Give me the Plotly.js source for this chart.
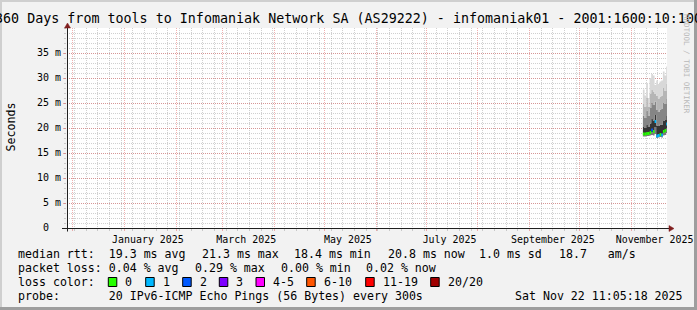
<!DOCTYPE html>
<html><head><meta charset="utf-8">
<script src="https://cdn.plot.ly/plotly-3.0.1.min.js"></script>
<style>html,body{margin:0;padding:0;background:#f2f2f2;overflow:hidden}#chart{width:697px;height:310px}</style>
</head><body><div id="chart"></div>
<script>
// ---------------- data ----------------
const titleText = '360 Days from tools to Infomaniak Network SA (AS29222) - infomaniak01 - 2001:1600:10:100';
const rangeStart = '2024-11-27 11:05:18';
const rangeEnd = '2025-11-22 11:05:18';

const days = ['2025-11-08','2025-11-09','2025-11-10','2025-11-11','2025-11-12','2025-11-13','2025-11-14',
              '2025-11-15','2025-11-16','2025-11-17','2025-11-18','2025-11-19','2025-11-20','2025-11-21','2025-11-22'];
// median RTT in ms and loss class index per day
const medianRtt = [18.8, 18.8, 18.9, 18.9, 19.1, 19.6, 19.3, 21.3, 18.4, 18.5, 18.7, 18.6, 19.3, 19.5, 20.8];
const lossClass = [0, 0, 0, 0, 0, 2, 0, 1, 1, 1, 0, 1, 0, 0, 1];
// smoke: sorted ping percentiles in ms
const pingMin = [18.3, 18.3, 18.4, 18.4, 18.5, 18.6, 18.5, 18.8, 18.0, 18.1, 18.2, 18.1, 18.5, 18.6, 19.0];
const ping25  = [18.6, 18.6, 18.7, 18.7, 18.8, 19.2, 19.0, 20.2, 18.2, 18.3, 18.5, 18.4, 19.0, 19.2, 19.9];
const ping75  = [20.2, 20.0, 20.6, 20.2, 20.9, 21.8, 21.5, 22.6, 20.5, 20.4, 20.7, 20.6, 21.4, 21.6, 22.4];
const ping90  = [22.5, 22.0, 23.5, 22.4, 24.0, 25.0, 24.6, 25.3, 23.6, 23.2, 23.7, 23.8, 25.0, 24.8, 25.8];
const ping95  = [24.8, 24.2, 26.0, 24.2, 26.8, 27.6, 27.3, 26.8, 26.4, 25.8, 26.3, 26.5, 28.0, 27.4, 28.9];
const pingMax = [27.7, 26.5, 29.0, 26.0, 30.0, 30.8, 30.5, 28.6, 29.5, 28.8, 29.3, 29.5, 31.3, 30.5, 32.3];

const yTickVals = [0, 5, 10, 15, 20, 25, 30, 35];
const yTickText = ['0\u00a0\u00a0', '5 m', '10 m', '15 m', '20 m', '25 m', '30 m', '35 m'];
const monthLabelDates = ['2025-01-15','2025-03-15','2025-05-15','2025-07-15','2025-09-15','2025-11-15'];
const monthLabels = ['January 2025','March 2025','May 2025','July 2025','September 2025','November 2025'];

const lossColors = ['#26ff00','#00b8ff','#0059ff','#7e00ff','#ff00ff','#ff5500','#ff0000','#a00000'];
const lossLabels = ['0','1','2','3','4-5','6-10','11-19','20/20'];

const rttStats = ['median rtt:  19.3 ms avg', '21.3 ms max', '18.4 ms min', '20.8 ms now', '1.0 ms sd', '18.7   am/s'];
const lossStats = ['packet loss: 0.04 % avg', '0.29 % max', '0.00 % min', '0.02 % now'];
const probeText = 'probe:       20 IPv6-ICMP Echo Pings (56 Bytes) every 300s';
const dateText = 'Sat Nov 22 11:05:18 2025';

// ---------------- layout geometry ----------------
const L = 67, T = 28, W = 600, H = 200, FW = 697, FH = 310;
const px = p => (p - L) / W;
const py = p => (T + H - p) / H;
const pre = s => s.replace(/ /g, '\u00a0');
const MONO = 'DejaVu Sans Mono, monospace';

// ---------------- traces ----------------
const stepX = days.concat([rangeEnd]);
const stepY = a => a.concat([a[a.length - 1]]);
const bands = [
  [pingMin, null],
  [ping25, '#7a7a7a'],
  [ping75, '#353535'],
  [ping90, '#858585'],
  [ping95, '#b5b5b5'],
  [pingMax, '#d8d8d8']
];
const traces = bands.map(([arr, col], i) => ({
  type: 'scatter', mode: 'lines', x: stepX, y: stepY(arr),
  line: {shape: 'hv', width: 0, color: col || 'rgba(0,0,0,0)'},
  fill: i === 0 ? 'none' : 'tonexty', fillcolor: col || undefined,
  hoverinfo: 'skip'
}));

// median segments coloured by loss class
lossColors.forEach((c, cls) => {
  const xs = [], ys = [];
  medianRtt.forEach((m, i) => {
    if (lossClass[i] !== cls) return;
    xs.push(days[i], i + 1 < days.length ? days[i + 1] : rangeEnd, null);
    ys.push(m, m, null);
  });
  if (xs.length) traces.push({type: 'scatter', mode: 'lines', x: xs, y: ys,
    line: {color: c, width: 3}, connectgaps: false, hoverinfo: 'skip'});
});

// dummy on label axis
traces.push({type: 'scatter', mode: 'markers', x: [monthLabelDates[0]], y: [0], xaxis: 'x2',
  marker: {opacity: 0}, hoverinfo: 'skip'});

// ---------------- annotations ----------------
const ann = [];
const txt = (s, x, y, extra) => ann.push(Object.assign({text: pre(s), xref: 'paper', yref: 'paper',
  x: px(x), y: py(y), xanchor: 'left', yanchor: 'middle', showarrow: false,
  font: {family: MONO, size: 11.6, color: '#000'}}, extra || {}));

const rttX = [15.5, 200, 292, 386, 477, 557];
rttStats.forEach((s, i) => txt(s, rttX[i], 254.3));
const lossX = [15.5, 193.4, 278.7, 364.4];
lossStats.forEach((s, i) => txt(s, lossX[i], 268.3));
txt('loss color:', 15.5, 282.3);
const boxX = [108.3, 145.7, 182.7, 219.3, 256, 306.7, 365.7, 430.7];
lossLabels.forEach((s, i) => txt(s, boxX[i] + 14.8, 282.3));
txt(probeText, 15.5, 296);
txt(dateText, 512.8, 296);

ann.push({text: 'Seconds', xref: 'paper', yref: 'paper', x: px(10), y: py(127.5), textangle: -90,
  xanchor: 'center', yanchor: 'middle', showarrow: false, font: {family: MONO, size: 11.6, color: '#000'}});
ann.push({text: pre('RRDTOOL / TOBI OETIKER'), xref: 'paper', yref: 'paper', x: px(686.5), y: py(63.5), textangle: 90,
  xanchor: 'center', yanchor: 'middle', showarrow: false, font: {family: MONO, size: 7.5, color: '#b9b9b9'}});

// ---------------- shapes ----------------
const shapes = [];
const rect = (x0, y0, x1, y1, c) => shapes.push({type: 'rect', xref: 'paper', yref: 'paper',
  x0: px(x0), x1: px(x1), y0: py(y0), y1: py(y1), fillcolor: c, line: {width: 0}, layer: 'above'});
rect(0, 0, FW, 2, '#cfcfcf');
rect(0, 0, 2, FH, '#cfcfcf');
rect(0, FH - 3, FW, FH, '#9e9e9e');
rect(FW - 3, 0, FW, FH, '#9e9e9e');
lossColors.forEach((c, i) => shapes.push({type: 'rect', xref: 'paper', yref: 'paper',
  x0: px(boxX[i]), x1: px(boxX[i] + 8.5), y0: py(277.5), y1: py(286.5), fillcolor: c,
  line: {color: '#000', width: 1}, layer: 'above'}));
const seg = (x0, y0, x1, y1) => shapes.push({type: 'line', xref: 'paper', yref: 'paper',
  x0: px(x0), x1: px(x1), y0: py(y0), y1: py(y1), line: {color: '#1f1f1f', width: 1}, layer: 'above'});
seg(62, 228.5, 669, 228.5);
seg(67.5, 231.5, 67.5, 27);
const path = (pts, c) => shapes.push({type: 'path', xref: 'paper', yref: 'paper',
  path: 'M' + pts.map(p => px(p[0]) + ',' + py(p[1])).join(' L') + ' Z',
  fillcolor: c, line: {color: c, width: 0.5}, layer: 'above'});
path([[669, 225.5], [674, 228.5], [669, 231.5]], '#801f1f');
path([[64.5, 28], [67.5, 23], [70.5, 28]], '#801f1f');

// ---------------- layout ----------------
const MAJ = 'rgba(222,79,79,0.45)', MIN = 'rgba(143,143,143,0.42)';
const layout = {
  width: FW, height: FH, margin: {l: L, r: FW - L - W, t: T, b: FH - T - H},
  paper_bgcolor: '#f2f2f2', plot_bgcolor: '#ffffff', showlegend: false,
  title: {text: titleText, x: 0.5, xref: 'container', xanchor: 'center',
    y: 1 - 18.5 / FH, yref: 'container', yanchor: 'middle',
    font: {family: MONO, size: 13.35, color: '#000'}},
  xaxis: {type: 'date', range: [rangeStart, rangeEnd], fixedrange: true,
    tickmode: 'linear', tick0: '2024-12-01', dtick: 'M1', showticklabels: false,
    showgrid: true, gridcolor: MAJ, griddash: '1px,1px', gridwidth: 1,
    ticks: 'outside', ticklen: 2, tickcolor: MAJ, zeroline: false, showline: false,
    minor: {tick0: '2024-12-02', dtick: 7 * 86400000, showgrid: true, gridcolor: MIN,
      griddash: '1px,1px', ticks: 'outside', ticklen: 2, tickcolor: MIN}},
  xaxis2: {type: 'date', range: [rangeStart, rangeEnd], overlaying: 'x', anchor: 'y', side: 'bottom',
    tickmode: 'array', tickvals: monthLabelDates, ticktext: monthLabels, showgrid: false,
    zeroline: false, showline: false, ticks: 'outside', ticklen: 2, tickcolor: 'rgba(0,0,0,0)',
    tickfont: {family: MONO, size: 9.95, color: '#000'}, fixedrange: true},
  yaxis: {range: [0, 40], fixedrange: true, tickmode: 'array', tickvals: yTickVals, ticktext: yTickText,
    showgrid: true, gridcolor: MAJ, griddash: '1px,1px', zeroline: false, showline: false,
    ticks: 'outside', ticklen: 3, tickcolor: MAJ,
    tickfont: {family: MONO, size: 9.95, color: '#000'},
    minor: {dtick: 1, tick0: 0, showgrid: true, gridcolor: MIN, griddash: '1px,1px',
      ticks: 'outside', ticklen: 2, tickcolor: MIN}},
  annotations: ann, shapes: shapes
};
Plotly.newPlot('chart', traces, layout, {staticPlot: true, displayModeBar: false});
</script></body></html>
